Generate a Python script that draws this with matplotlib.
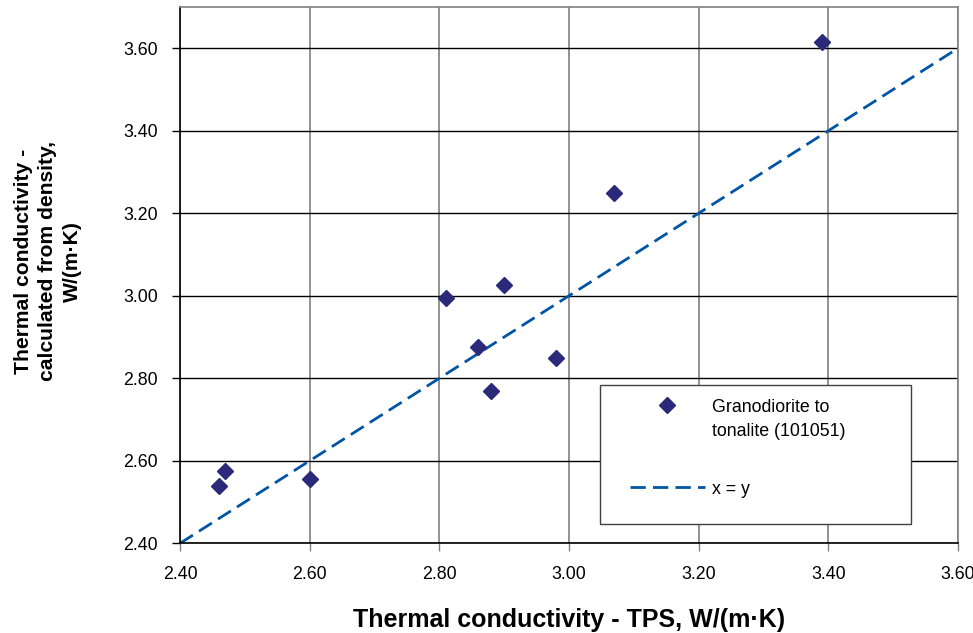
import matplotlib
matplotlib.use("Agg")
import matplotlib.pyplot as plt
from matplotlib.patches import Rectangle

plt.rcParams['font.family'] = ['Liberation Sans', 'DejaVu Sans']

# measured values (TPS vs calculated from density)
tps = [2.46, 2.47, 2.60, 2.81, 2.86, 2.88, 2.90, 2.98, 3.07, 3.39]
calc = [2.54, 2.575, 2.555, 2.995, 2.875, 2.77, 3.025, 2.85, 3.25, 3.615]
line_x = [2.40, 3.60]
line_y = [2.40, 3.60]
ticks = [2.40, 2.60, 2.80, 3.00, 3.20, 3.40, 3.60]
tick_labels = ["%.2f" % t for t in ticks]

fig = plt.figure(figsize=(9.73, 6.33), dpi=100)
ax = fig.add_axes([180 / 973, 1 - 543.3 / 633, 778 / 973, 536.3 / 633])

ax.plot(tps, calc, linestyle="none", marker="D", markersize=8.5,
        color="#2B2A7A", label="Granodiorite to\ntonalite (101051)", zorder=3)
ax.plot(line_x, line_y, color="#0055A4", linewidth=2, dashes=(5.5, 2.6),
        label="x = y", zorder=2)

ax.set_xlim(2.40, 3.60)
ax.set_ylim(2.40, 3.70)
ax.set_xticks(ticks)
ax.set_xticklabels(tick_labels)
ax.set_yticks(ticks)
ax.set_yticklabels(tick_labels)

ax.xaxis.grid(True, color="#808080", linewidth=1.2)
ax.yaxis.grid(True, color="#000000", linewidth=1.0)
ax.set_axisbelow(True)

ax.tick_params(axis="both", direction="out", length=6, width=1, labelsize=12.8, pad=10)
ax.tick_params(axis="x", color="#808080")
ax.spines["left"].set_color("black")
ax.spines["bottom"].set_color("black")
ax.spines["top"].set_color("#808080")
ax.spines["right"].set_color("#808080")
for s in ax.spines.values():
    s.set_linewidth(1.2)

ax.set_xlabel("Thermal conductivity - TPS, W/(m·K)", fontsize=18, fontweight="bold", labelpad=18)
ax.set_ylabel("Thermal conductivity -\ncalculated from density,\nW/(m·K)", fontsize=15.2,
              fontweight="bold", linespacing=1.36)
ax.yaxis.label.set_va("center")
ax.yaxis.set_label_coords((48 - 180) / 778, 0.526)

# legend box drawn separately, content placed inside it
box = Rectangle((600 / 973, 1 - 524 / 633), 311 / 973, 139 / 633, transform=fig.transFigure,
                facecolor="white", edgecolor="#404040", linewidth=1.0, zorder=4)
ax.add_patch(box)
leg = ax.legend(loc="upper left", bbox_to_anchor=(630 / 973, 1 - 399 / 633),
                bbox_transform=fig.transFigure, fontsize=12.8, frameon=False,
                borderpad=0, handlelength=4.2, handletextpad=0.4,
                labelspacing=2.27, borderaxespad=0)
leg.set_zorder(5)
for t in leg.get_texts():
    t.set_linespacing(1.55)
for hp in leg._legend_handle_box.get_children()[0].get_children():
    hp.align = "top"

fig.savefig("out.png", dpi=100)
